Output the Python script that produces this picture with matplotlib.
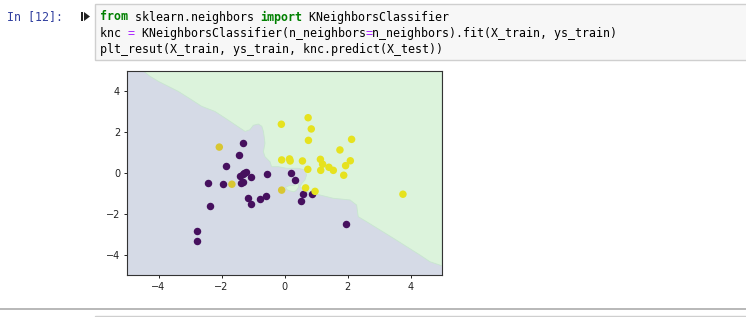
import matplotlib

matplotlib.use("Agg")

import matplotlib.pyplot as plt
import numpy as np
from matplotlib.patches import Rectangle, Polygon
from matplotlib.path import Path

# ---- scatter data ----
class0_x = [-2.79, -2.77, -2.42, -2.37, -1.96, -1.85, -1.44, -1.31, -1.40, -1.32,
            -1.27, -1.21, -1.38, -1.32, -1.05, -1.17, -1.07, -0.79, -0.59, -0.54,
            0.21, 0.33, 0.58, 0.53, 0.86, 1.94]
class0_y = [-2.83, -3.32, -0.50, -1.61, -0.53, 0.34, 0.86, 1.49, -0.13, -0.05,
            0.02, 0.03, -0.47, -0.42, -0.21, -1.22, -1.52, -1.27, -1.11, -0.05,
            -0.01, -0.35, -1.03, -1.35, -1.05, -2.50]
class1_x = [-2.07, -1.67, -0.09, -0.10, 0.75, 0.85, 0.76, 2.13, 1.76, -0.09,
            0.16, 0.18, 0.57, 1.14, 1.21, 1.41, 1.55, 1.15, 0.74, 2.09,
            1.94, 1.88, 3.76, 0.97, 0.67]
class1_y = [1.27, -0.55, -0.84, 2.39, 2.71, 2.16, 1.60, 1.65, 1.13, 0.64,
            0.69, 0.59, 0.59, 0.67, 0.43, 0.28, 0.13, 0.13, 0.18, 0.60,
            0.36, -0.11, -1.04, -0.90, -0.73]

# decision boundary (upper-right region is class 1)
bound_x = [-4.48, -4.27, -4.0, -3.69, -3.37, -2.95, -2.63, -2.21, -1.89, -1.57,
           -1.25, -1.10, -0.99, -0.83, -0.72, -0.67, -0.64, -0.62, -0.67, -0.62,
           -0.46, -0.41, -0.20, 0.07, 0.44, 0.65, 0.70, 0.65, 0.55, 0.49,
           0.60, 0.80, 1.0, 1.13, 1.55, 2.08, 2.29, 2.34, 2.61, 3.03,
           3.46, 3.88, 4.30, 4.62, 5.0]
bound_y = [5.0, 4.74, 4.49, 4.25, 4.0, 3.59, 3.27, 3.02, 2.70, 2.37,
           2.04, 2.12, 2.34, 2.40, 2.29, 2.04, 1.72, 1.46, 1.04, 0.80,
           0.55, 0.31, 0.31, 0.23, 0.23, 0.15, -0.10, -0.34, -0.51, -0.67,
           -0.82, -0.98, -1.03, -1.08, -1.24, -1.32, -1.57, -2.14, -2.39, -2.79,
           -3.20, -3.61, -4.02, -4.35, -4.55]
island_x = [0.03, 0.15, 0.30, 0.36, 0.43, 0.45, 0.38, 0.30, 0.18, 0.08]
island_y = [-0.70, -0.62, -0.62, -0.50, -0.50, -0.68, -0.85, -0.92, -0.88, -0.82]

ticks = [-4, -2, 0, 2, 4]

# ---- notebook cell text ----
prompt = "In [12]:"
code_lines = [
    [("from", "kw"), (" sklearn.neighbors ", ""), ("import", "kw"),
     (" KNeighborsClassifier", "")],
    [("knc ", ""), ("=", "op"), (" KNeighborsClassifier(n_neighbors", ""),
     ("=", "op"), ("n_neighbors).fit(X_train, ys_train)", "")],
    [("plt_resut(X_train, ys_train, knc.predict(X_test))", "")],
]
styles = {
    "": dict(color="#000000"),
    "kw": dict(color="#008000", fontweight="bold"),
    "op": dict(color="#AA22FF"),
}

W, H = 746, 317
fig = plt.figure(figsize=(W / 100, H / 100), dpi=100)


def fx(px):
    return px / W


def fy(py):
    return 1 - py / H


mono = "DejaVu Sans Mono"
fsize = 8.35
char_w = 0.602 * fsize * 100 / 72

# code cell box
fig.patches.append(Rectangle((fx(95), fy(59.5)), fx(760) - fx(95), fy(3.5) - fy(59.5),
                             transform=fig.transFigure, facecolor="#f7f7f7",
                             edgecolor="#cfcfcf", lw=1))
fig.text(fx(7), fy(20.5), prompt, family=mono, fontsize=fsize, color="#303F9F",
         va="baseline", ha="left")

# run icon next to the cell
fig.patches.append(Rectangle((fx(81), fy(21)), fx(2.2), fy(12) - fy(21),
                             transform=fig.transFigure, facecolor="#222", lw=0))
fig.patches.append(Polygon([[fx(84), fy(12)], [fx(84), fy(21)], [fx(90), fy(16.5)]],
                           closed=True, transform=fig.transFigure,
                           facecolor="#222", lw=0))

baselines = [20.5, 37, 53.5]
for ly, segs in zip(baselines, code_lines):
    col = 0
    for txt, kind in segs:
        fig.text(fx(100 + col * char_w), fy(ly), txt, family=mono, fontsize=fsize,
                 va="baseline", ha="left", **styles[kind])
        col += len(txt)

# separator and next cell at the bottom
fig.lines.append(plt.Line2D([0, 1], [fy(309), fy(309)], transform=fig.transFigure,
                            color="#ababab", lw=1.2))
fig.patches.append(Rectangle((fx(95), fy(330)), fx(760) - fx(95), fy(315.5) - fy(330),
                             transform=fig.transFigure, facecolor="#f7f7f7",
                             edgecolor="#cfcfcf", lw=1))

# ---- the plot ----
ax = fig.add_axes([fx(127), fy(275), fx(442) - fx(127), fy(71) - fy(275)])
ax.set_xlim(-5, 5)
ax.set_ylim(-5, 5)

bg0 = "#d5dae6"
bg1 = "#dcf3dc"
ax.add_patch(Rectangle((-5, -5), 10, 10, facecolor=bg0, lw=0, zorder=0))
green_poly = list(zip(bound_x, bound_y)) + [(5, 5)]
ax.add_patch(Polygon(green_poly, closed=True, facecolor=bg1, edgecolor="#c8e6cf",
                     lw=0.6, zorder=0.5))
island_poly = list(zip(island_x, island_y))
ax.add_patch(Polygon(island_poly, closed=True, facecolor=bg1, edgecolor="#c8e6cf",
                     lw=0.6, zorder=0.5))

# points inside the purple region look tinted (region drawn over them in the original)
green_path = Path(green_poly)
pts1 = np.column_stack([class1_x, class1_y])
in_green = green_path.contains_points(pts1)
c1 = np.where(in_green, "#e6e21e", "#d8c632")

ax.scatter(class0_x, class0_y, s=29, c="#46105e", linewidths=0, zorder=2)
ax.scatter(class1_x, class1_y, s=29, c=c1, linewidths=0, zorder=2)

ax.set_xticks(ticks)
ax.set_yticks(ticks)
ax.tick_params(labelsize=7, length=2.5, width=0.7, pad=2.5, colors="#222")
for sp in ax.spines.values():
    sp.set_linewidth(0.8)
    sp.set_color("#333")

fig.savefig("out.png", dpi=100)
